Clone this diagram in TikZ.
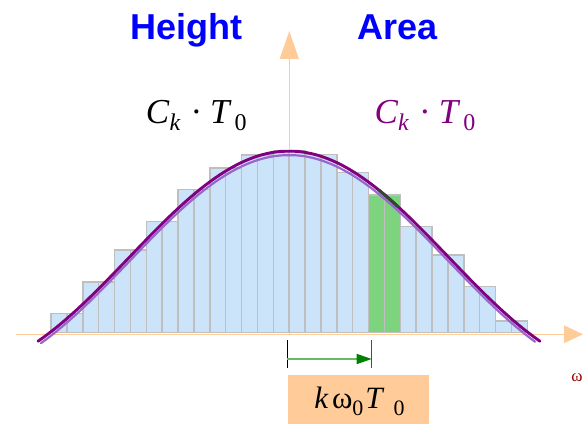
\documentclass[tikz,border=0pt]{standalone}
\usepackage{fontspec}
\setmainfont{Liberation Serif}
\newfontfamily\hsans{Liberation Sans}
\usetikzlibrary{arrows.meta}
\definecolor{peach}{HTML}{FFCC99}
\definecolor{barblue}{HTML}{CCE4FA}
\definecolor{bargray}{HTML}{BFBFBF}
\definecolor{bargreen}{HTML}{7ED37E}
\definecolor{curvedark}{HTML}{800080}
\definecolor{curvelight}{HTML}{9966CC}
\definecolor{titleblue}{HTML}{0000FF}
\definecolor{omegared}{HTML}{990000}
\definecolor{arrowgreen}{HTML}{008000}
\definecolor{linegreen}{HTML}{66BB66}
\definecolor{overgreen}{HTML}{2E4A2E}
\newcommand{\cktlabel}{{\fontsize{35}{35}\selectfont\textit{C}\raisebox{-6.7pt}{\fontsize{24}{24}\selectfont\textit{k}}\hspace{10pt}·\hspace{8pt}\textit{T}\hspace{3pt}\raisebox{-6.7pt}{\fontsize{24}{24}\selectfont 0}}}
\newcommand{\shiftlabel}{{\fontsize{31}{31}\selectfont\textit{k}\hspace{3.5pt}ω\raisebox{-6.7pt}{\fontsize{22}{22}\selectfont 0}\hspace{2pt}\textit{T}\hspace{9pt}\raisebox{-6.7pt}{\fontsize{22}{22}\selectfont 0}}}
\begin{document}
\begin{tikzpicture}[x=1pt,y=-1pt,
  barbox/.style={fill=barblue,draw=bargray,line width=1.5pt},
  greenbox/.style={fill=bargreen,draw=bargray,line width=1.5pt},
  axisline/.style={peach,line width=1.5pt},
  title/.style={anchor=base,inner sep=0pt,text=titleblue,font=\hsans\bfseries\fontsize{36}{36}\selectfont},
  formula/.style={anchor=base,inner sep=0pt},
  tick/.style={line width=0.8pt}]
\useasboundingbox (0,0) rectangle (583,425);
% axes
\coordinate (xs) at (16,334.3);
\coordinate (xe) at (583,334.3);
\coordinate (yb) at (289.3,334.3);
\coordinate (yt) at (289.3,31);
\draw[axisline,-{Triangle[length=19pt,width=17.6pt]}] (xs) -- (xe);
\draw[axisline,-{Triangle[length=28pt,width=19pt]}] (yb) -- (yt);
% bars
\foreach \t [count=\j from 0] in {313.3,282,250,221.7,189.3,168,155,150.5,154.3,172.7,195,226.7,255,286.7,321} {
  \pgfmathsetmacro\xa{51+2*\j*15.877}
  \pgfmathsetmacro\xb{\xa+15.877}
  \pgfmathsetmacro\xc{\xb+15.877}
  \ifnum\j=10
    \draw[greenbox] (\xa,\t) rectangle (\xb,332.7);
    \draw[greenbox] (\xb,\t) rectangle (\xc,332.7);
  \else
    \draw[barbox] (\xa,\t) rectangle (\xb,332.7);
    \draw[barbox] (\xb,\t) rectangle (\xc,332.7);
  \fi
}
% curve
\draw[curvedark,line width=2.9pt,line cap=round] plot[domain=38:540,samples=100] (\x,{334-183*sin((\x-289)/241*180)/(pi*(\x-289)/241)});
\draw[curvelight,line width=2.2pt,line cap=round] plot[domain=41:535,samples=100] (\x,{338-183*sin((\x-289)/241*180)/(pi*(\x-289)/241)});
\draw[overgreen,line width=2.9pt,line cap=round] plot[domain=379:398,samples=10] (\x,{334-183*sin((\x-289)/241*180)/(pi*(\x-289)/241)});
% titles
\node[title] (height) at (186.8,39.3) {Height};
\node[title] (area) at (398,39.3) {Area};
\node[formula] (ckl) at (196.3,124) {\cktlabel};
\node[formula,text=curvedark] (ckr) at (425,124) {\cktlabel};
% shift arrow
\coordinate (ta) at (287.3,340);
\coordinate (tb) at (287.3,367.7);
\coordinate (tc) at (371.7,340);
\coordinate (td) at (371.7,367.7);
\draw[tick] (ta) -- (tb);
\draw[tick,black!70] (tc) -- (td);
\coordinate (ga) at (287.3,359);
\coordinate (gb) at (371.7,359);
\draw[linegreen,line width=1.5pt,-{Triangle[length=15pt,width=10pt,color=arrowgreen]}] (ga) -- (gb);
% label box
\node[fill=peach,inner sep=0pt,minimum width=141pt,minimum height=49.7pt,anchor=north west] (box) at (287.3,374.3) {};
\node[formula] (shift) at (359.4,408.3) {\shiftlabel};
\node[anchor=base,inner sep=0pt,text=omegared,font=\fontsize{17}{17}\selectfont] (om) at (577,381.7) {ω};
\end{tikzpicture}
\end{document}
